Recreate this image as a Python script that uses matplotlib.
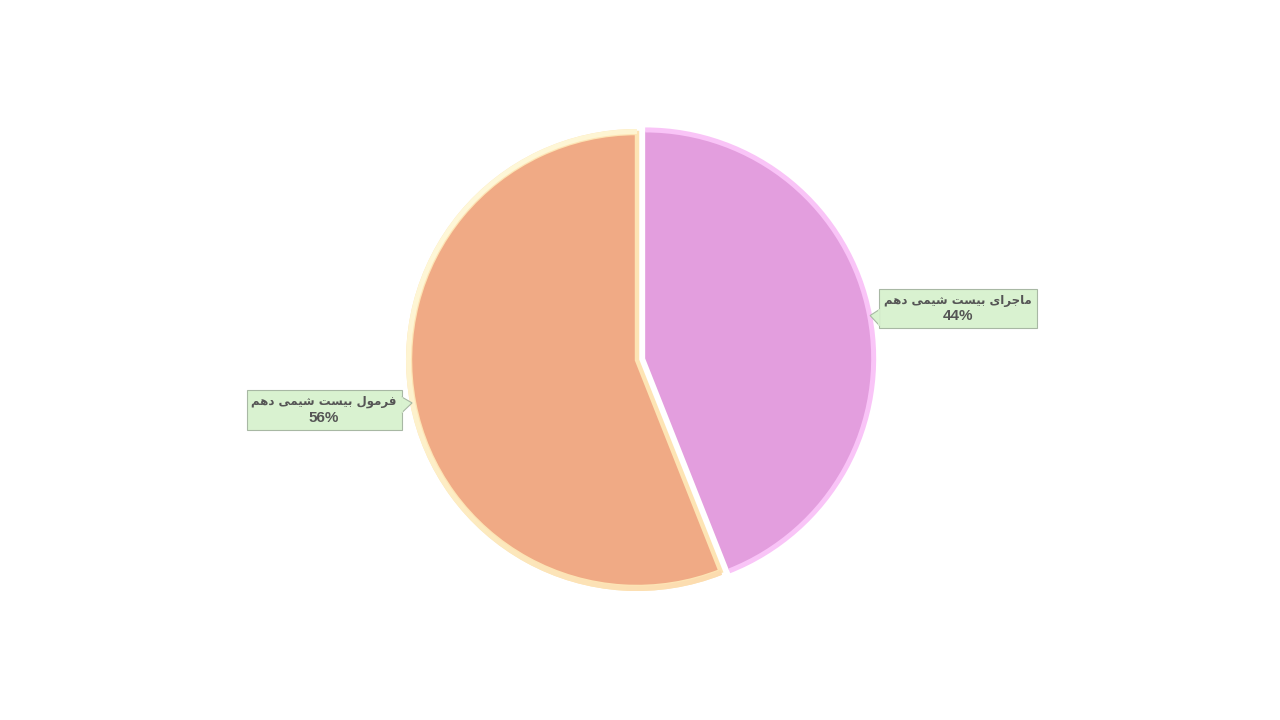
"""Pie chart: two Persian chemistry titles (share of total)."""

import matplotlib
matplotlib.use("Agg")
import matplotlib.pyplot as plt
from matplotlib.colors import LinearSegmentedColormap
from matplotlib.offsetbox import AnnotationBbox, TextArea, VPacker
from matplotlib.patches import Polygon
import numpy as np

# ---- data ----
labels = ["ماجرای بیست شیمی دهم", "فرمول بیست شیمی دهم"]
values = [44, 56]
colors = ["#e39ede", "#f0aa85"]
rim_colors = ["#f9c4f7", "#fde4b4"]
explode = [0.036, 0.0]

# Arabic presentation forms: (isolated, final, initial, medial); None = no left join
FORMS = {
    "ا": ("\uFE8D", "\uFE8E", None, None),
    "ب": ("\uFE8F", "\uFE90", "\uFE91", "\uFE92"),
    "ت": ("\uFE95", "\uFE96", "\uFE97", "\uFE98"),
    "ج": ("\uFE9D", "\uFE9E", "\uFE9F", "\uFEA0"),
    "د": ("\uFEA9", "\uFEAA", None, None),
    "ر": ("\uFEAD", "\uFEAE", None, None),
    "س": ("\uFEB1", "\uFEB2", "\uFEB3", "\uFEB4"),
    "ش": ("\uFEB5", "\uFEB6", "\uFEB7", "\uFEB8"),
    "ف": ("\uFED1", "\uFED2", "\uFED3", "\uFED4"),
    "ل": ("\uFEDD", "\uFEDE", "\uFEDF", "\uFEE0"),
    "م": ("\uFEE1", "\uFEE2", "\uFEE3", "\uFEE4"),
    "ه": ("\uFEE9", "\uFEEA", "\uFEEB", "\uFEEC"),
    "و": ("\uFEED", "\uFEEE", None, None),
    "ی": ("\uFBFC", "\uFBFD", "\uFBFE", "\uFBFF"),
}


def shape(text):
    """very small RTL shaper: pick joined forms, then reverse for LTR drawing."""
    out = []
    for i, ch in enumerate(text):
        if ch not in FORMS:
            out.append(ch)
            continue
        prev = text[i - 1] if i > 0 else " "
        nxt = text[i + 1] if i + 1 < len(text) else " "
        joins_prev = prev in FORMS and FORMS[prev][2] is not None
        joins_next = nxt in FORMS and FORMS[ch][2] is not None
        iso, fin, ini, med = FORMS[ch]
        if joins_prev and joins_next:
            out.append(med)
        elif joins_prev:
            out.append(fin)
        elif joins_next:
            out.append(ini)
        else:
            out.append(iso)
    return "".join(reversed(out))


fig = plt.figure(figsize=(12.8, 7.2), dpi=100)
ax = fig.add_axes([0, 0, 1, 1])

center = (637, 360)
R = 231
RIM = 4
expl_px = [e * R for e in explode]   # pie() explode is in data units

# slices (orange one gets a cream stroke on its straight edges)
inner, _ = ax.pie(values, colors=colors, explode=expl_px, startangle=90,
                  counterclock=False, center=center, radius=R - RIM,
                  wedgeprops=dict(linewidth=0), frame=True)
inner[1].set_edgecolor("#fde4b4")
inner[1].set_linewidth(3.2)
# lighter outer rim (annulus)
rims, _ = ax.pie(values, colors=rim_colors, explode=expl_px, startangle=90,
                 counterclock=False, center=center, radius=R,
                 wedgeprops=dict(linewidth=0, width=RIM + 1), frame=True)
for w in inner:
    w.set_zorder(1)
for w in rims:
    w.set_zorder(2)

# orange rim: pale yellow -> soft orange gradient
grad = LinearSegmentedColormap.from_list("rim", ["#fffde2", "#fdebc0", "#fcd4a6"])
ramp = np.linspace(0, 1, 64)
gimg = np.add.outer(ramp, ramp) / 2
im = ax.imshow(gimg[::-1], cmap=grad, origin="lower",
               extent=(center[0] - R, center[0] + R, center[1] - R, center[1] + R),
               zorder=3, interpolation="bilinear")
im.set_clip_path(rims[1])

ax.set_xlim(0, 1280)
ax.set_ylim(0, 720)
ax.set_aspect("equal")
ax.axis("off")

# callout labels at each slice's mid angle
BOX_FC, BOX_EC = "#d9f2d0", "#a8b8a4"
total = sum(values)
start = 90.0
callouts = []
for lab, v, ex, side in zip(labels, values, expl_px, [1, -1]):
    mid = start - 360.0 * v / total / 2
    start -= 360.0 * v / total
    th = np.deg2rad(mid)
    px = center[0] + (ex + R - 2) * np.cos(th)
    py = center[1] + (ex + R - 2) * np.sin(th)
    name = TextArea(shape(lab), textprops=dict(
        fontsize=8.5, fontweight="bold", color="#555555",
        family=["DejaVu Sans Condensed", "DejaVu Sans"]))
    pct = TextArea(f"{v}%", textprops=dict(
        fontsize=11, fontweight="bold", color="#555555",
        family=["Liberation Sans", "DejaVu Sans"]))
    box = VPacker(children=[name, pct], align="center", pad=0, sep=2)
    ab = AnnotationBbox(box, (px, py), xybox=(px + side * 88, py + 7 * side),
                        xycoords="data", boxcoords="data", pad=0.35,
                        bboxprops=dict(boxstyle="square,pad=0.35", fc=BOX_FC,
                                       ec=BOX_EC, lw=0.8),
                        zorder=5)
    ax.add_artist(ab)
    callouts.append((ab, px, py, side))

# speech-bubble pointers from each box edge to its slice
fig.canvas.draw()
inv = ax.transData.inverted()
for ab, px, py, side in callouts:
    (x0, y0), (x1, y1) = inv.transform(ab.patch.get_window_extent().get_points())
    edge = x0 if side > 0 else x1
    yb = min(max(py - 2, y0 + 8), y1 - 8)
    tri = Polygon([(edge, yb + 8), (px, py), (edge, yb - 8)], closed=False,
                  fc=BOX_FC, ec=BOX_EC, lw=0.8, zorder=6)
    ax.add_patch(tri)
    # cover the box border under the pointer base
    ax.plot([edge, edge], [yb - 7.3, yb + 7.3], color=BOX_FC, lw=1.2, zorder=7)

fig.savefig("out.png", dpi=100, facecolor="white")
